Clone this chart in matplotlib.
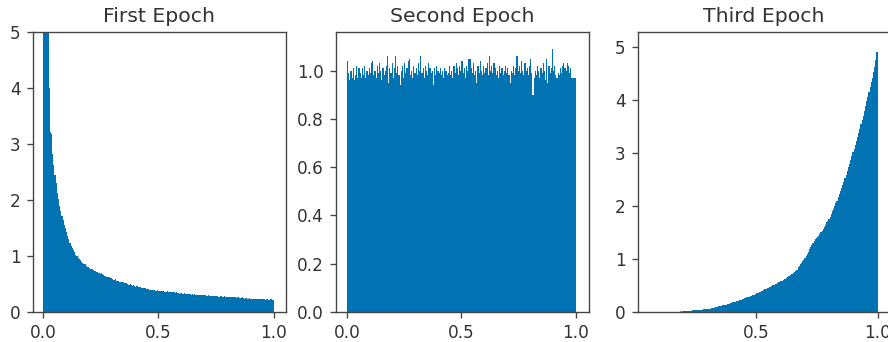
import numpy as np
import matplotlib
matplotlib.use("Agg")
import matplotlib.pyplot as plt

# ---------------- data (bin heights, density) ----------------
titles = ["First Epoch", "Second Epoch", "Third Epoch"]
n_bins = 200
range_first = (0.0, 1.0)
range_second = (0.0, 1.0)
range_third = (0.061, 1.0)

first_heights = [
    40.0, 9.8, 6.9, 5.6, 5.1, 4.0, 3.22, 3.18, 2.82, 2.62, 2.45, 2.30, 2.12, 2.02, 1.90, 1.80, 1.72, 1.64, 1.55, 1.50,
    1.42, 1.36, 1.30, 1.24, 1.18, 1.15, 1.10, 1.07, 1.02, 1.00, 0.97, 0.95, 0.92, 0.90, 0.88, 0.86, 0.85, 0.82, 0.81, 0.80,
    0.79, 0.77, 0.77, 0.75, 0.74, 0.74, 0.71, 0.71, 0.70, 0.68, 0.69, 0.67, 0.66, 0.64, 0.65, 0.63, 0.62, 0.62, 0.60, 0.60,
    0.59, 0.58, 0.59, 0.56, 0.56, 0.56, 0.54, 0.54, 0.53, 0.54, 0.52, 0.51, 0.52, 0.50, 0.49, 0.50, 0.48, 0.47, 0.48, 0.46,
    0.45, 0.46, 0.44, 0.44, 0.44, 0.43, 0.42, 0.43, 0.42, 0.41, 0.41, 0.41, 0.40, 0.40, 0.39, 0.40, 0.39, 0.38, 0.38, 0.39,
    0.38, 0.37, 0.37, 0.38, 0.37, 0.36, 0.36, 0.37, 0.36, 0.35, 0.35, 0.36, 0.35, 0.35, 0.34, 0.35, 0.34, 0.34, 0.33, 0.34,
    0.33, 0.33, 0.34, 0.33, 0.32, 0.33, 0.32, 0.32, 0.31, 0.32, 0.31, 0.32, 0.31, 0.30, 0.31, 0.31, 0.30, 0.30, 0.31, 0.30,
    0.30, 0.29, 0.29, 0.30, 0.29, 0.28, 0.29, 0.29, 0.28, 0.28, 0.29, 0.28, 0.27, 0.28, 0.28, 0.27, 0.27, 0.28, 0.27, 0.27,
    0.27, 0.26, 0.27, 0.26, 0.26, 0.27, 0.26, 0.25, 0.26, 0.26, 0.25, 0.25, 0.26, 0.25, 0.24, 0.25, 0.25, 0.24, 0.25, 0.24,
    0.24, 0.24, 0.23, 0.24, 0.24, 0.23, 0.24, 0.23, 0.23, 0.24, 0.23, 0.23, 0.22, 0.23, 0.23, 0.22, 0.22, 0.23, 0.22, 0.22,
]

second_heights = [
    1.04, 0.99, 0.96, 1.00, 0.97, 1.01, 0.96, 0.98, 1.02, 0.97, 1.01, 0.99, 0.97, 1.01, 0.98, 1.02, 0.97, 1.00, 0.98, 1.01,
    0.99, 1.03, 1.04, 0.98, 1.00, 0.97, 1.02, 0.99, 1.03, 1.00, 0.96, 1.01, 0.98, 1.00, 1.02, 1.06, 0.95, 1.01, 0.99, 1.03,
    0.97, 1.01, 1.06, 0.99, 1.02, 0.98, 0.94, 1.00, 1.02, 0.97, 1.03, 0.99, 1.01, 1.04, 1.05, 0.98, 1.00, 0.97, 1.02, 0.99,
    1.01, 0.98, 1.03, 1.00, 1.06, 0.99, 1.01, 0.97, 1.02, 1.00, 0.98, 1.03, 1.01, 0.99, 1.00, 0.94, 1.01, 0.98, 1.02, 1.00,
    0.99, 1.01, 0.98, 1.00, 0.97, 1.01, 1.00, 0.98, 0.99, 1.02, 0.98, 1.00, 0.97, 1.02, 0.99, 1.03, 1.01, 0.98, 1.02, 1.00,
    1.04, 0.99, 1.01, 0.97, 1.02, 1.00, 1.05, 1.05, 1.01, 0.99, 1.03, 0.98, 1.00, 0.95, 1.02, 0.99, 1.04, 1.00, 0.98, 1.02,
    0.99, 1.01, 1.03, 0.98, 1.06, 1.00, 1.02, 0.99, 1.03, 1.01, 0.98, 1.00, 0.97, 1.02, 0.99, 1.01, 0.98, 1.00, 1.02, 0.99,
    1.01, 0.98, 0.95, 1.00, 0.99, 1.02, 0.98, 1.01, 1.06, 1.00, 1.02, 0.99, 1.04, 1.00, 0.98, 1.03, 1.00, 1.01, 0.98, 1.02,
    1.05, 0.99, 0.90, 0.97, 1.00, 0.98, 1.02, 1.00, 0.97, 1.01, 0.99, 1.03, 1.00, 0.96, 1.05, 0.95, 1.02, 0.99, 1.01, 1.09,
    1.00, 1.02, 0.98, 0.97, 0.99, 0.98, 1.01, 0.99, 1.02, 1.03, 1.01, 1.00, 1.03, 1.02, 0.99, 1.01, 0.97, 0.97, 0.97, 0.97,
]

third_heights = [
    0.0, 0.0, 0.0, 0.0, 0.0, 0.0, 0.0, 0.0, 0.0, 0.0, 0.0, 0.0, 0.001, 0.001, 0.001, 0.002, 0.002, 0.002, 0.003, 0.003,
    0.003, 0.004, 0.005, 0.005, 0.006, 0.007, 0.008, 0.02, 0.009, 0.010, 0.011, 0.012, 0.013, 0.014, 0.016, 0.017, 0.019, 0.020, 0.030, 0.032,
    0.034, 0.035, 0.037, 0.039, 0.041, 0.044, 0.046, 0.048, 0.051, 0.054, 0.057, 0.060, 0.063, 0.066, 0.070, 0.073, 0.077, 0.081, 0.095, 0.10,
    0.11, 0.11, 0.12, 0.12, 0.13, 0.13, 0.14, 0.14, 0.15, 0.16, 0.16, 0.17, 0.17, 0.18, 0.19, 0.19, 0.20, 0.21, 0.21, 0.22,
    0.23, 0.24, 0.25, 0.26, 0.27, 0.28, 0.29, 0.29, 0.30, 0.31, 0.32, 0.32, 0.33, 0.34, 0.35, 0.36, 0.37, 0.38, 0.39, 0.40,
    0.42, 0.43, 0.44, 0.45, 0.46, 0.47, 0.48, 0.49, 0.50, 0.51, 0.52, 0.53, 0.54, 0.56, 0.57, 0.58, 0.59, 0.60, 0.62, 0.63,
    0.64, 0.66, 0.67, 0.69, 0.71, 0.72, 0.74, 0.76, 0.78, 0.80, 0.84, 0.87, 0.90, 0.93, 0.96, 0.99, 1.02, 1.06, 1.10, 1.14,
    1.18, 1.22, 1.26, 1.30, 1.33, 1.37, 1.40, 1.42, 1.44, 1.47, 1.50, 1.53, 1.57, 1.61, 1.65, 1.69, 1.72, 1.76, 1.80, 1.85,
    1.90, 1.95, 2.00, 2.05, 2.10, 2.16, 2.22, 2.28, 2.34, 2.40, 2.46, 2.52, 2.59, 2.66, 2.73, 2.80, 2.87, 2.94, 3.01, 3.08,
    3.15, 3.22, 3.30, 3.38, 3.46, 3.54, 3.62, 3.70, 3.79, 3.88, 3.97, 4.06, 4.15, 4.24, 4.33, 4.42, 4.52, 4.62, 4.75, 4.90,
]

# ---------------- styling ----------------
bar_color = "#0173B2"
text_color = "#333333"
spine_color = "#444444"
scale = 1.22  # the reference was rendered with text ~22% larger than default

plt.rcParams.update({
    "font.family": ["DejaVu Sans"],
    "text.color": text_color,
    "axes.labelcolor": text_color,
    "xtick.color": spine_color,
    "ytick.color": spine_color,
    "xtick.labelcolor": text_color,
    "ytick.labelcolor": text_color,
    "axes.edgecolor": spine_color,
    "axes.linewidth": 0.8 * scale,
    "xtick.major.size": 3.5 * scale,
    "ytick.major.size": 3.5 * scale,
    "xtick.major.width": 0.8 * scale,
    "ytick.major.width": 0.8 * scale,
    "xtick.major.pad": 3.5 * scale,
    "ytick.major.pad": 3.5 * scale,
    "xtick.labelsize": 10 * scale,
    "ytick.labelsize": 10 * scale,
    "axes.titlesize": 12 * scale,
    "axes.titlepad": 6 * scale,
})

W, H = 888, 342
fig = plt.figure(figsize=(W / 100, H / 100), dpi=100)

def px_axes(left, top, right, bottom):
    return fig.add_axes([left / W, 1 - bottom / H, (right - left) / W, (bottom - top) / H])

ax1 = px_axes(32.5, 32, 285.5, 312)
ax2 = px_axes(335.5, 32, 588.5, 312)
ax3 = px_axes(637.5, 32, 890.5, 312)

datasets = [
    (ax1, first_heights, range_first),
    (ax2, second_heights, range_second),
    (ax3, third_heights, range_third),
]
for (ax, heights, rng), title in zip(datasets, titles):
    edges = np.linspace(rng[0], rng[1], n_bins + 1)
    ax.stairs(heights, edges, fill=True, color=bar_color, linewidth=0)
    ax.set_title(title, color=text_color)

ax1.set_xlim(-0.045, 1.05)
ax1.set_ylim(0, 5)
ax1.set_yticks([0, 1, 2, 3, 4, 5])
ax1.set_xticks([0.0, 0.5, 1.0])

ax2.set_xlim(-0.05, 1.055)
ax2.set_ylim(0, 1.16)
ax2.set_yticks([0.0, 0.2, 0.4, 0.6, 0.8, 1.0])
ax2.set_xticks([0.0, 0.5, 1.0])

ax3.set_xlim(0.014, 1.053)
ax3.set_ylim(0, 5.28)
ax3.set_yticks([0, 1, 2, 3, 4, 5])
ax3.set_xticks([0.5, 1.0])

fig.savefig("out.png", dpi=100)
